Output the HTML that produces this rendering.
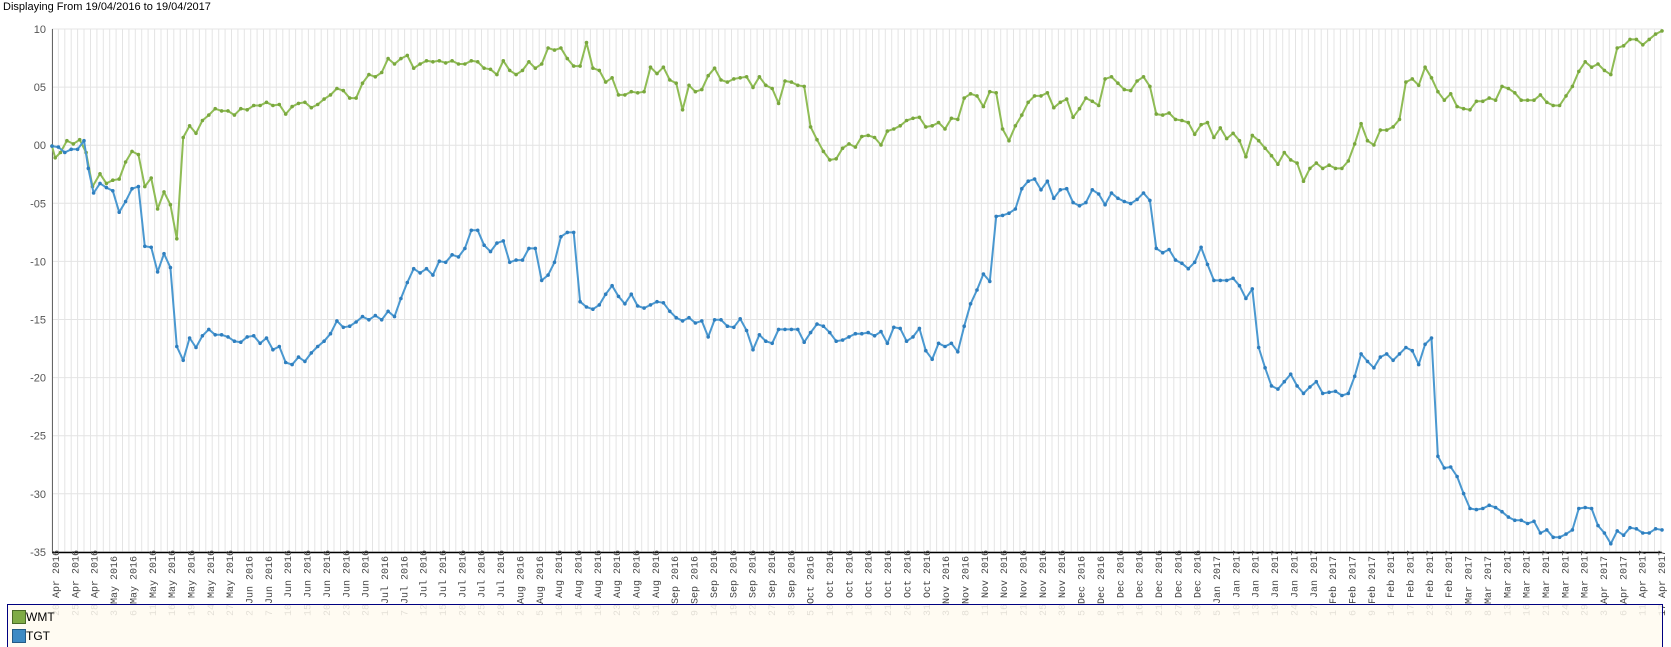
<!DOCTYPE html>
<html><head><meta charset="utf-8"><style>
html,body{margin:0;padding:0;background:#fff;width:1671px;height:647px;overflow:hidden;font-family:"Liberation Sans",sans-serif}
</style></head><body>
<svg id="s" width="1671" height="647" xmlns="http://www.w3.org/2000/svg" style="position:absolute;left:0;top:0"></svg>
<script>
var s=document.getElementById('s'),h='';
h+='<text x="3" y="10" font-size="11" fill="#000" font-family="Liberation Sans">Displaying From 19/04/2016 to 19/04/2017</text>';
var X0=52,X1=1662;
for(var x=X0;x<=X1+1;x+=6.41)h+='<line x1="'+x.toFixed(1)+'" y1="29" x2="'+x.toFixed(1)+'" y2="552" stroke="#e4e4e4" stroke-width="1"/>';
var yl=['10','05','00','-05','-10','-15','-20','-25','-30','-35'];
for(var i=0;i<10;i++){var y=29+i*58.1;h+='<line x1="52" y1="'+y+'" x2="1662" y2="'+y+'" stroke="#e4e4e4"/>';
h+='<text x="46" y="'+(y+4)+'" font-size="11" fill="#555" text-anchor="end" font-family="Liberation Sans">'+yl[i]+'</text>';}
h+='<line x1="52.5" y1="29" x2="52.5" y2="553" stroke="#666"/>';
h+='<line x1="52" y1="552.5" x2="1662" y2="552.5" stroke="#000" stroke-width="1.5"/>';
var K=1/0.938;
function tr(a){var p=[];for(var i=0;i<a.length;i+=2)p.push([52+(a[i]-52)*1610/1509,a[i+1]*K]);return p;}
var g=[52,137,55,148,60,143,66,132,72,135,78,131,84,143,90,175,97,163,103,172,109,169,115,168,121,152,127,142,133,145,139,175,145,167,151,196,157,180,163,192,169,224,175,129,181,118,187,125,193,113,199,108,205,102,211,104,217,104,223,108,229,102,235,103,241,99,247,99,253,96,259,99,265,98,271,107,277,100,283,97,289,96,295,101,301,98,307,93,313,89,319,83,325,85,331,92,337,92,343,78,349,70,355,72,361,68,367,55,373,60,379,55,385,52,391,64,397,60,403,57,409,58,415,57,421,59,427,57,433,60,439,60,445,57,451,58,457,64,463,65,469,70,475,57,481,66,487,70,493,66,499,58,505,64,511,60,517,45,523,47,529,45,535,55,541,62,547,62,553,40,559,64,565,66,571,77,577,73,583,89,589,89,595,86,601,87,607,86,613,63,619,69,625,63,631,75,637,78,643,103,649,80,655,86,661,84,667,71,673,64,679,75,685,77,691,74,697,73,703,72,709,82,715,72,721,80,727,83,733,97,739,76,745,77,751,80,757,81,763,119,769,131,775,142,781,150,787,149,793,139,799,135,805,138,811,128,817,127,823,129,829,136,835,123,841,121,847,118,853,113,859,111,865,110,871,119,877,118,883,115,889,121,895,111,901,112,907,92,913,88,919,90,925,100,931,86,937,87,943,121,949,132,955,118,961,108,967,96,973,90,979,90,985,87,991,101,997,96,1003,93,1009,110,1015,102,1021,92,1027,95,1033,99,1039,74,1045,72,1051,78,1057,84,1063,85,1069,76,1075,72,1081,81,1087,107,1093,108,1099,106,1105,112,1111,113,1117,115,1123,126,1129,117,1135,115,1141,129,1147,120,1153,130,1159,125,1165,132,1171,147,1177,127,1183,132,1189,139,1195,146,1201,154,1207,143,1213,150,1219,153,1225,170,1231,158,1237,153,1243,158,1249,155,1255,158,1261,158,1267,151,1273,135,1279,116,1285,132,1291,136,1297,122,1303,122,1309,119,1315,112,1321,77,1327,74,1333,80,1339,63,1345,73,1351,86,1357,94,1363,88,1369,100,1375,102,1381,103,1387,95,1393,95,1399,92,1405,94,1411,81,1417,83,1423,87,1429,94,1435,94,1441,94,1447,89,1453,96,1459,99,1465,99,1471,90,1477,81,1483,67,1489,58,1495,63,1501,60,1507,66,1513,70,1519,45,1525,43,1531,37,1537,37,1543,42,1549,37,1555,32,1561,29];
var b=[52,137,58,138,64,143,70,140,76,140,82,132,86,158,91,181,97,172,103,176,109,179,115,199,121,189,127,177,133,175,139,231,145,232,151,255,157,238,163,251,169,325,175,338,181,317,187,326,193,315,199,309,205,314,211,314,217,316,223,320,229,321,235,316,241,315,247,322,253,317,259,328,265,325,271,340,277,342,283,335,289,339,295,331,301,325,307,320,313,313,319,301,325,307,331,306,337,302,343,297,349,300,355,296,361,300,367,292,373,297,379,280,385,265,391,252,397,256,403,252,409,258,415,245,421,246,427,239,433,241,439,233,445,216,451,216,457,230,463,236,469,228,475,226,481,246,487,244,493,244,499,233,505,233,511,263,517,258,523,246,529,222,535,218,541,218,547,283,553,288,559,290,565,286,571,276,577,268,583,278,589,285,595,276,601,287,607,289,613,286,619,283,625,284,631,292,637,298,643,301,649,298,655,303,661,301,667,316,673,300,679,300,685,306,691,307,697,299,703,310,709,328,715,314,721,320,727,322,733,309,739,309,745,309,751,309,757,321,763,312,769,304,775,306,781,312,787,320,793,319,799,316,805,313,811,313,817,312,823,315,829,311,835,322,841,307,847,308,853,320,859,316,865,308,871,329,877,337,883,322,889,325,895,322,901,330,907,306,913,285,919,272,925,257,931,264,937,203,943,202,949,200,955,196,961,177,967,170,973,168,979,178,985,170,991,186,997,178,1003,177,1009,190,1015,193,1021,190,1027,178,1033,182,1039,192,1045,181,1051,186,1057,189,1063,191,1069,187,1075,181,1081,188,1087,233,1093,237,1099,234,1105,244,1111,247,1117,252,1123,246,1129,232,1135,248,1141,263,1147,263,1153,263,1159,261,1165,268,1171,280,1177,271,1183,326,1189,345,1195,362,1201,365,1207,358,1213,351,1219,362,1225,369,1231,363,1237,358,1243,369,1249,368,1255,367,1261,371,1267,369,1273,353,1279,332,1285,339,1291,345,1297,335,1303,332,1309,338,1315,332,1321,326,1327,329,1333,342,1339,323,1345,317,1351,428,1357,439,1363,438,1369,447,1375,463,1381,477,1387,478,1393,477,1399,474,1405,476,1411,480,1417,485,1423,488,1429,488,1435,491,1441,489,1447,500,1453,497,1459,504,1465,504,1471,501,1477,497,1483,477,1489,476,1495,477,1501,493,1507,500,1513,510,1519,498,1525,502,1531,495,1537,496,1543,500,1549,500,1555,496,1561,497];
function ser(a,c,dc){var p=tr(a),d='';p.forEach(function(q,i){d+=(i?'L':'M')+q[0].toFixed(1)+','+q[1].toFixed(1);});
h+='<path d="'+d+'" fill="none" stroke="'+c+'" stroke-width="2" stroke-linejoin="round"/>';
p.forEach(function(q){h+='<circle cx="'+q[0].toFixed(1)+'" cy="'+q[1].toFixed(1)+'" r="1.8" fill="'+dc+'"/>';});}
ser(g,'#8fbc55','#7aa83e');ser(b,'#4a98d0','#2f7fbf');
var L='20 Apr,25 Apr,28 Apr,3 May,6 May,11 May,16 May,19 May,24 May,27 May,2 Jun,7 Jun,10 Jun,15 Jun,20 Jun,23 Jun,28 Jun,1 Jul,7 Jul,12 Jul,15 Jul,20 Jul,25 Jul,28 Jul,2 Aug,5 Aug,10 Aug,15 Aug,18 Aug,23 Aug,26 Aug,31 Aug,6 Sep,9 Sep,14 Sep,19 Sep,22 Sep,27 Sep,30 Sep,5 Oct,10 Oct,13 Oct,18 Oct,21 Oct,26 Oct,31 Oct,3 Nov,8 Nov,11 Nov,16 Nov,21 Nov,25 Nov,30 Nov,5 Dec,8 Dec,13 Dec,16 Dec,21 Dec,27 Dec,30 Dec,5 Jan,10 Jan,13 Jan,19 Jan,24 Jan,27 Jan,1 Feb,6 Feb,9 Feb,14 Feb,17 Feb,23 Feb,28 Feb,3 Mar,8 Mar,13 Mar,16 Mar,21 Mar,24 Mar,29 Mar,3 Apr,6 Apr,11 Apr,17 Apr'.split(',');
L.forEach(function(t,i){var x=55+i*19.35;var yr=i<60?' 2016':' 2017';
h+='<text transform="translate('+(x+4).toFixed(1)+',616) rotate(-90)" font-size="10" fill="#444" font-family="Liberation Mono">'+t+yr+'</text>';});
h+='<rect x="7.5" y="604.5" width="1655" height="50" fill="rgba(255,250,240,0.85)" stroke="#000080"/>';
h+='<rect x="12.5" y="610.5" width="13" height="13" fill="#7fab45" stroke="#4a6a28"/>';
h+='<rect x="12.5" y="629.5" width="13" height="13" fill="#3d8ac4" stroke="#245a85"/>';
h+='<text x="26" y="621" font-size="12" fill="#000">WMT</text><text x="26" y="640" font-size="12" fill="#000">TGT</text>';
s.innerHTML=h;
</script>
</body></html>
